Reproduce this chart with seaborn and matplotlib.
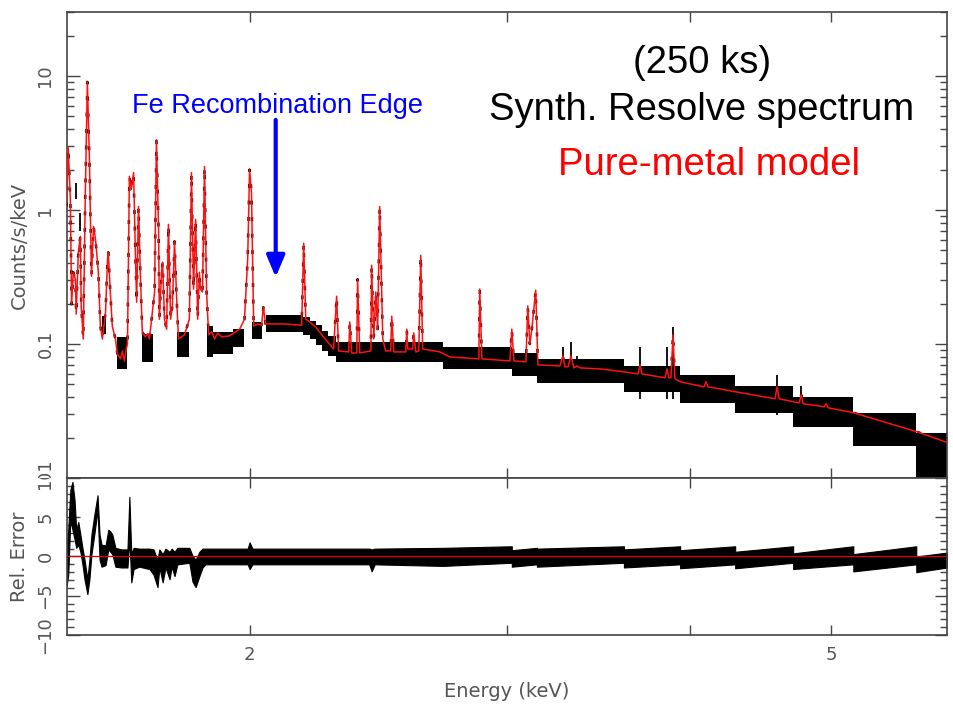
import numpy as np
import matplotlib
matplotlib.use("Agg")
import matplotlib.pyplot as plt
from matplotlib.ticker import FixedLocator, NullLocator, LogLocator, MultipleLocator, FuncFormatter
from matplotlib.transforms import Bbox, TransformedBbox
import seaborn as sns

# model curve (keV, counts/s/keV)
model_energy = [
    1.499, 1.503, 1.508, 1.511, 1.515, 1.520, 1.522, 1.527, 1.532, 1.534,
    1.539, 1.544, 1.549, 1.554, 1.559, 1.564, 1.569, 1.576, 1.581, 1.586,
    1.594, 1.599, 1.601, 1.606, 1.611, 1.619, 1.624, 1.632, 1.637, 1.642,
    1.647, 1.650, 1.655, 1.660, 1.666, 1.671, 1.674, 1.679, 1.684, 1.689,
    1.697, 1.703, 1.708, 1.714, 1.722, 1.727, 1.733, 1.735, 1.741, 1.744,
    1.749, 1.755, 1.760, 1.766, 1.771, 1.777, 1.783, 1.788, 1.805, 1.819,
    1.825, 1.831, 1.837, 1.843, 1.848, 1.851, 1.857, 1.863, 1.869, 1.875,
    1.884, 1.893, 1.902, 1.914, 1.938, 1.969, 1.984, 1.994, 2.000, 2.006,
    2.013, 2.025, 2.038, 2.044, 2.051, 2.114, 2.171, 2.178, 2.185, 2.199,
    2.219, 2.241, 2.262, 2.283, 2.294, 2.301, 2.338, 2.342, 2.349, 2.368,
    2.371, 2.379, 2.421, 2.424, 2.432, 2.440, 2.447, 2.455, 2.467, 2.478,
    2.498, 2.502, 2.510, 2.558, 2.562, 2.566, 2.586, 2.590, 2.599, 2.611,
    2.619, 2.627, 2.699, 2.742, 2.870, 2.874, 2.884, 3.014, 3.023, 3.033,
    3.091, 3.100, 3.110, 3.120, 3.139, 3.150, 3.261, 3.276, 3.287, 3.303,
    3.318, 3.334, 3.350, 3.366, 3.473, 3.609, 3.688, 3.700, 3.711, 3.848,
    3.860, 3.872, 3.884, 3.897, 3.909, 3.942, 4.092, 4.105, 4.118, 4.299,
    4.577, 4.591, 4.606, 4.709, 4.754, 4.769, 4.784, 4.945, 4.961, 4.977,
    5.177, 5.717, 6.004]
model_counts = [
    1.06, 2.92, 1.20, 0.198, 0.343, 0.304, 0.167, 0.483, 0.635, 0.192,
    0.109, 1.35, 9.03, 2.37, 0.320, 0.754, 0.604, 0.343, 0.136, 0.109,
    0.173, 0.429, 0.483, 0.244, 0.136, 0.109, 0.0843, 0.0774, 0.0887, 0.0747,
    0.0918, 0.100, 1.78, 1.42, 1.90, 0.429, 0.205, 1.06, 0.320, 0.123,
    0.113, 0.119, 0.109, 0.153, 0.244, 3.34, 0.680, 0.153, 0.343, 0.407,
    0.153, 0.129, 0.780, 0.153, 0.192, 0.583, 0.216, 0.109, 0.117, 0.153,
    1.90, 0.257, 0.850, 0.153, 0.343, 0.257, 0.244, 2.11, 0.244, 0.117,
    0.123, 0.109, 0.121, 0.113, 0.115, 0.129, 0.153, 0.429, 2.00, 1.35,
    0.136, 0.141, 0.138, 0.188, 0.141, 0.141, 0.138, 0.564, 0.153, 0.146,
    0.134, 0.117, 0.1035, 0.0918, 0.227, 0.0887, 0.0872, 0.146, 0.0857, 0.0857,
    0.304, 0.0857, 0.0887, 0.387, 0.109, 0.244, 0.129, 1.06, 0.109, 0.0887,
    0.0887, 0.161, 0.0872, 0.0872, 0.129, 0.0918, 0.0918, 0.121, 0.0872, 0.0887,
    0.459, 0.0918, 0.0872, 0.0800, 0.0774, 0.257, 0.0774, 0.0747, 0.129, 0.0747,
    0.0735, 0.192, 0.100, 0.129, 0.252, 0.0698, 0.0686, 0.0814, 0.0675, 0.0675,
    0.0814, 0.0663, 0.0686, 0.0663, 0.0652, 0.0619, 0.0598, 0.0698, 0.0598, 0.0559,
    0.0652, 0.0559, 0.0559, 0.117, 0.0549, 0.0522, 0.0479, 0.0522, 0.0479, 0.0440,
    0.0390, 0.0479, 0.0390, 0.0371, 0.0364, 0.0418, 0.0358, 0.0340, 0.0358, 0.0334,
    0.0307, 0.0222, 0.0184]

# binned data: energy range of each bin and its error range
bin_e_lo = [1.584, 1.622, 1.687, 1.783, 1.869, 1.887, 1.947, 2.009,
            2.051, 2.174, 2.199, 2.219, 2.241, 2.262, 2.291, 2.712,
            3.023, 3.145, 3.607, 3.941, 4.298, 4.709, 5.177, 5.717]
bin_e_hi = [1.594, 1.650, 1.719, 1.817, 1.887, 1.947, 1.984, 2.041,
            2.174, 2.199, 2.219, 2.241, 2.262, 2.291, 2.712, 3.023,
            3.145, 3.607, 3.941, 4.298, 4.709, 5.177, 5.717, 6.004]
bin_c_hi = [0.161, 0.113, 0.119, 0.123, 0.136, 0.123, 0.129, 0.146,
            0.164, 0.159, 0.148, 0.138, 0.125, 0.115, 0.1035, 0.0950,
            0.0857, 0.0774, 0.0686, 0.0588, 0.0487, 0.0404, 0.0307, 0.0218]
bin_c_lo = [0.119, 0.0652, 0.0735, 0.0800, 0.0800, 0.0843, 0.0950, 0.109,
            0.123, 0.117, 0.109, 0.0983, 0.0887, 0.0814, 0.0735, 0.0652,
            0.0578, 0.0513, 0.0440, 0.0364, 0.0307, 0.0242, 0.0172, 0.0080]

# narrow data channels sticking out of the wide bins
spike_energy = [1.522, 1.530, 3.276, 3.318, 3.350, 3.700, 3.860, 3.897, 4.591, 4.769]
spike_top = [1.60, 0.95, 0.0950, 0.1035, 0.0814, 0.0950, 0.0950, 0.134, 0.0588, 0.0487]
spike_bottom = [1.20, 0.70, 0.0513, 0.0513, 0.0608, 0.0390, 0.0390, 0.0390, 0.0297, 0.0242]

# residual band (data-model)/error
res_energy = [1.499, 1.503, 1.508, 1.513, 1.518, 1.522, 1.527, 1.532, 1.537, 1.542,
              1.549, 1.554, 1.559, 1.566, 1.574, 1.579, 1.584, 1.594, 1.601, 1.606,
              1.611, 1.619, 1.634, 1.650, 1.655, 1.660, 1.666, 1.681, 1.708, 1.719,
              1.730, 1.735, 1.744, 1.752, 1.763, 1.769, 1.777, 1.785, 1.819, 1.828,
              1.837, 1.848, 1.857, 1.866, 1.994, 2.000, 2.009, 2.174, 2.415, 2.424,
              2.436, 2.712, 3.023, 3.023, 3.145, 3.145, 3.607, 3.607, 3.941, 3.941,
              4.298, 4.298, 4.709, 4.709, 5.177, 5.177, 5.717, 5.717, 6.004]
res_upper = [1.1, 3.4, 8.5, 9.5, 7.2, 3.4, 4.4, 2.8, 1.1, -0.4,
             -2.9, -0.4, 2.8, 5.3, 7.8, 2.8, 1.5, 1.4, 3.4, 3.2,
             2.8, 1.1, 0.9, 0.9, 7.6, 0.3, 1.1, 1.0, 1.0, 0.9,
             -0.4, 0.9, 0.3, 1.0, 0.6, 1.0, 0.6, 1.1, 1.1, 0.1,
             -0.4, 0.6, 1.0, 1.0, 1.0, 1.8, 1.0, 1.0, 1.0, 0.9,
             1.0, 1.1, 1.3, 0.8, 1.1, 1.0, 1.3, 0.9, 1.3, 0.8,
             1.3, 0.6, 1.3, 0.4, 1.3, 0.3, 1.3, 0.0, 0.5]
res_lower = [-3.8, -2.3, 4.7, 3.4, 2.2, 1.1, 1.5, 0.6, -1.0, -2.9,
             -4.8, -2.9, 0.3, 2.8, 5.9, -0.4, -1.3, -1.1, 0.9, 0.6,
             0.3, -1.3, -1.4, -1.4, 2.2, -3.3, -1.6, -1.3, -1.6, -2.3,
             -3.9, -1.4, -3.3, -1.4, -2.9, -1.3, -2.5, -1.0, -0.8, -3.2,
             -3.9, -2.5, -1.4, -1.0, -1.0, -1.6, -1.0, -1.0, -1.0, -1.9,
             -1.0, -1.2, -0.8, -1.3, -1.0, -1.3, -0.8, -1.4, -1.0, -1.5,
             -1.0, -1.5, -0.8, -1.6, -1.0, -1.9, -1.0, -2.0, -1.4]

decade_labels = {0.01: "0.01", 0.1: "0.1", 1: "1", 10: "10"}

sns.set_style("ticks")
plt.rcParams['font.family'] = ['DejaVu Sans']

frame = '#444444'
label_gray = '#555555'

fig = plt.figure(figsize=(9.54, 7.18), dpi=100)
ax1 = fig.add_axes([0.0702, 0.3343, 0.9224, 0.6490])
ax2 = fig.add_axes([0.0702, 0.1156, 0.9224, 0.2187])

for ax in (ax1, ax2):
    ax.set_xscale('log')
    ax.set_xlim(1.5, 6.0)
ax1.set_yscale('log')
ax1.set_ylim(0.01, 30)
ax2.set_ylim(-10, 10)

# data: wide bins as filled error boxes, line channels as sparse dashes along the model
ax1.bar(bin_e_lo, np.subtract(bin_c_hi, bin_c_lo), width=np.subtract(bin_e_hi, bin_e_lo),
        bottom=bin_c_lo, align='edge', color='black', linewidth=0, zorder=2)
ax1.vlines(spike_energy, spike_bottom, spike_top, color='black', lw=1.3, zorder=2)
sns.lineplot(x=model_energy, y=model_counts, ax=ax1, color='black', lw=1.8,
             estimator=None, sort=False, zorder=3)
ax1.lines[-1].set_linestyle((0, (1.6, 5.0)))
sns.lineplot(x=model_energy, y=model_counts, ax=ax1, color='#ff1010', lw=1.1,
             estimator=None, sort=False, zorder=4)

ax2.fill_between(res_energy, res_lower, res_upper, color='black', lw=0.8, zorder=2)
ax2.axhline(0, color='#e00000', lw=0.9, zorder=3)

# ticks and frame
for ax in (ax1, ax2):
    ax.xaxis.set_major_locator(FixedLocator([2, 3, 4, 5]))
    ax.xaxis.set_minor_locator(NullLocator())
    ax.xaxis.set_major_formatter(FuncFormatter(lambda v, p: "%d" % v if v in (2, 5) else ""))
    ax.tick_params(which='both', direction='in', top=True, right=True,
                   color=frame, labelcolor=label_gray, labelsize=13, width=1.0)
    ax.tick_params(axis='x', which='major', length=7, pad=8)
    ax.tick_params(axis='y', which='major', length=9, pad=9, labelrotation=90)
    ax.tick_params(axis='y', which='minor', length=5)
    for s in ax.spines.values():
        s.set_color(frame)
        s.set_linewidth(1.2)
    for lab in ax.get_yticklabels():
        lab.set_va('center')

ax1.tick_params(labelbottom=False)
ax1.yaxis.set_major_locator(FixedLocator([0.01, 0.1, 1, 10]))
ax1.yaxis.set_minor_locator(LogLocator(base=10, subs=np.arange(2, 10)))
ax1.yaxis.set_major_formatter(FuncFormatter(lambda v, p: decade_labels.get(round(v, 2), "")))
ax2.yaxis.set_major_locator(MultipleLocator(5))
ax2.yaxis.set_minor_locator(MultipleLocator(1))

ax1.set_ylabel('Counts/s/keV', fontsize=14, color=label_gray)
ax2.set_ylabel('Rel. Error', fontsize=14, color=label_gray)
ax1.yaxis.set_label_coords(-0.043, 0.5)
ax2.yaxis.set_label_coords(-0.043, 0.5)
ax2.set_xlabel('Energy (keV)', fontsize=14, color=label_gray)
ax2.xaxis.set_label_coords(0.5, -0.30)

# annotations
big = ['Liberation Sans', 'DejaVu Sans']
fig.text(702 / 954, 1 - 73 / 718, '(250 ks)', ha='center', va='baseline',
         fontsize=27.5, color='black', family=big)
fig.text(702 / 954, 1 - 120 / 718, 'Synth. Resolve spectrum', ha='center', va='baseline',
         fontsize=27.5, color='black', family=big)
fig.text(709 / 954, 1 - 175 / 718, 'Pure-metal model', ha='center', va='baseline',
         fontsize=27.5, color='#ff0000', family=big)
fig.text(278 / 954, 1 - 113 / 718, 'Fe Recombination Edge', ha='center', va='baseline',
         fontsize=19.5, color='#0000ff', family=big)
ax1.annotate('', xy=(2.084, 0.315), xytext=(2.084, 4.7),
             arrowprops=dict(arrowstyle='-|>,head_length=1.3,head_width=0.55',
                             color='#0000ff', lw=3.0, shrinkA=0, shrinkB=0))

# the two panels share the tick label at their junction: clip each to its own panel
fig.canvas.draw()
upper_box = TransformedBbox(Bbox.from_extents(0, 0.3343, 1, 1), fig.transFigure)
lower_box = TransformedBbox(Bbox.from_extents(0, 0, 1, 0.3343), fig.transFigure)
for lab in ax1.get_yticklabels():
    if lab.get_text() == '0.01':
        lab.set_clip_box(upper_box)
        lab.set_clip_on(True)
for lab in ax2.get_yticklabels():
    if lab.get_text() == '10':
        lab.set_clip_box(lower_box)
        lab.set_clip_on(True)

fig.savefig('out.png', dpi=100)
